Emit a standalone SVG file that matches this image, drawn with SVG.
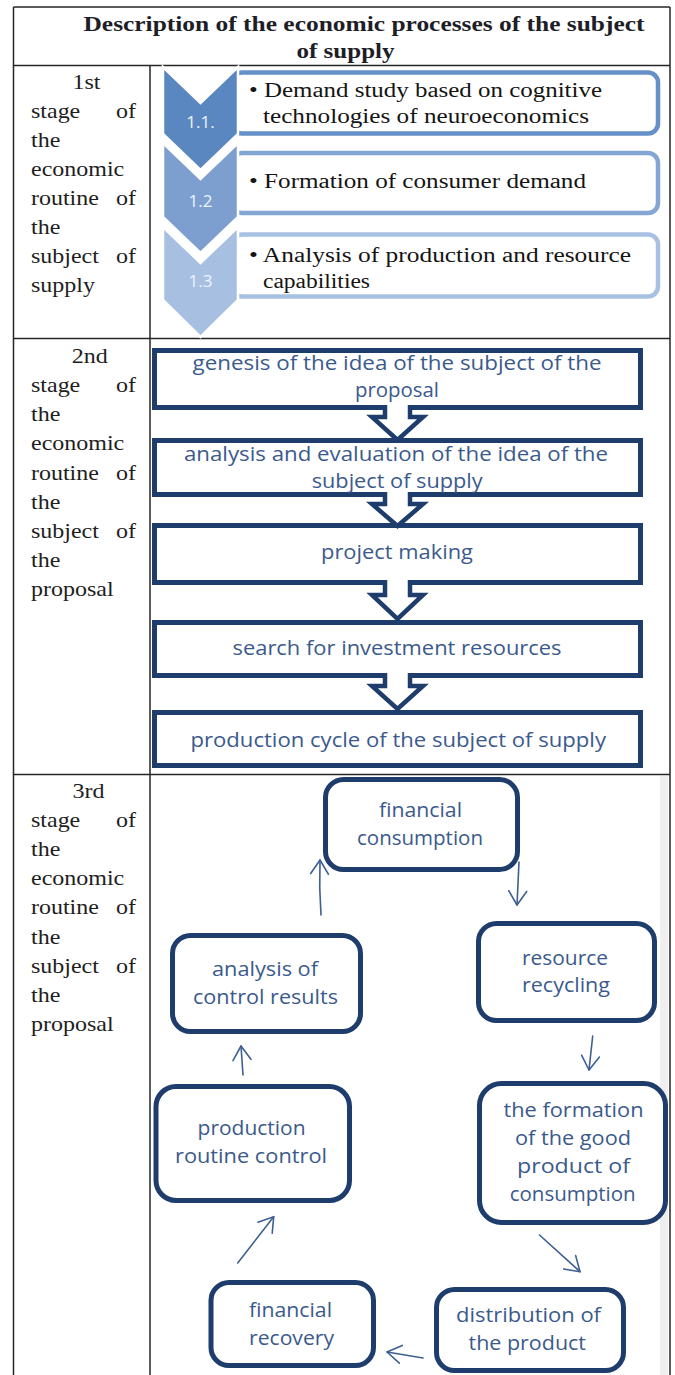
<svg xmlns="http://www.w3.org/2000/svg" width="675" height="1375" viewBox="0 0 675 1375">
<style>
.tbl{stroke:#262626;stroke-width:1.5;fill:none}
.hdr{font-family:"Liberation Serif","Times New Roman",serif;font-weight:bold;font-size:20px;fill:#1e1e28}
.lbl{font-family:"Liberation Serif","Times New Roman",serif;font-size:20px;fill:#1e1e1e}
.s1t{font-family:"Liberation Serif","Times New Roman",serif;font-size:20px;fill:#141414}
.num{font-family:"Open Sans","Liberation Sans",sans-serif;font-size:17px;fill:#eef3fa;text-anchor:middle}
.chev{stroke:#fff;stroke-width:2.5}
.box{fill:#fff;stroke:#1f3d6c;stroke-width:5}
.st{font-family:"Open Sans","Liberation Sans",sans-serif;font-size:20px;fill:#3b5a8c}
.blk{fill:#fff;stroke:#1f3d6c;stroke-width:4.5;stroke-linejoin:miter}
.arr{fill:none;stroke:#3d5f92;stroke-width:1.6;stroke-linecap:round;marker-end:url(#vh)}
</style>
<defs>
<marker id="vh" markerUnits="userSpaceOnUse" viewBox="0 0 16 20" markerWidth="16" markerHeight="20" refX="15" refY="10" orient="auto">
<path d="M1,1 L15,10 L1,19" fill="none" stroke="#3d5f92" stroke-width="1.6" stroke-linecap="round" stroke-linejoin="round"/>
</marker>
</defs>
<rect x="0" y="0" width="675" height="1375" fill="#fff"/>
<rect x="660" y="776" width="8" height="599" fill="#efefef"/>
<g id="table" class="tbl">
<path d="M13.5,7 H670 M13.5,65.5 H670 M13.5,338.5 H670 M13.5,774.5 H670 M13.5,7 V1375 M670,7 V1375 M150,65.5 V1375"/>
</g>
<g id="header">
<text class="hdr" x="83.5" y="31" textLength="561" lengthAdjust="spacingAndGlyphs">Description of the economic processes of the subject</text>
<text class="hdr" x="296.5" y="58" textLength="98" lengthAdjust="spacingAndGlyphs">of supply</text>
</g>
<g id="stage-labels" class="lbl" transform="scale(1.2,1)">
<text x="72.1" y="89" text-anchor="middle">1st</text>
<text y="118"><tspan x="25.83">stage</tspan><tspan x="96.6">of</tspan></text>
<text x="25.83" y="147">the</text>
<text x="25.83" y="176">economic</text>
<text y="205"><tspan x="25.83">routine</tspan><tspan x="96.6">of</tspan></text>
<text x="25.83" y="234">the</text>
<text y="263"><tspan x="25.83">subject</tspan><tspan x="96.6">of</tspan></text>
<text x="25.83" y="292">supply</text>
<text x="74.75" y="363" text-anchor="middle">2nd</text>
<text y="392"><tspan x="25.83">stage</tspan><tspan x="96.6">of</tspan></text>
<text x="25.83" y="421">the</text>
<text x="25.83" y="450">economic</text>
<text y="480"><tspan x="25.83">routine</tspan><tspan x="96.6">of</tspan></text>
<text x="25.83" y="509">the</text>
<text y="538"><tspan x="25.83">subject</tspan><tspan x="96.6">of</tspan></text>
<text x="25.83" y="567">the</text>
<text x="25.83" y="596">proposal</text>
<text x="73.75" y="798" text-anchor="middle">3rd</text>
<text y="827"><tspan x="25.83">stage</tspan><tspan x="96.6">of</tspan></text>
<text x="25.83" y="856">the</text>
<text x="25.83" y="885">economic</text>
<text y="914"><tspan x="25.83">routine</tspan><tspan x="96.6">of</tspan></text>
<text x="25.83" y="944">the</text>
<text y="973"><tspan x="25.83">subject</tspan><tspan x="96.6">of</tspan></text>
<text x="25.83" y="1002">the</text>
<text x="25.83" y="1031">proposal</text>
</g>
<g id="s1-1">
<rect x="232" y="72.5" width="426" height="61" rx="10" fill="#fff" stroke="#6590c8" stroke-width="4.5"/>
<polygon class="chev" fill="#5b87c1" points="163,67 200.5,103 238,67 238,134 200.5,170 163,134"/>
<text class="num" x="200.5" y="128">1.1.</text>
<text class="s1t" x="249" y="97" textLength="353" lengthAdjust="spacingAndGlyphs">• Demand study based on cognitive</text>
<text class="s1t" x="263" y="123" textLength="326" lengthAdjust="spacingAndGlyphs">technologies of neuroeconomics</text>
</g>
<g id="s1-2">
<rect x="232" y="153" width="426" height="60" rx="10" fill="#fff" stroke="#84a6d4" stroke-width="4.5"/>
<polygon class="chev" fill="#7c9fd0" points="163,143 200.5,179 238,143 238,217 200.5,253 163,217"/>
<text class="num" x="200.5" y="207">1.2</text>
<text class="s1t" x="249" y="188" textLength="337" lengthAdjust="spacingAndGlyphs">• Formation of consumer demand</text>
</g>
<g id="s1-3">
<rect x="232" y="234.5" width="426" height="62" rx="10" fill="#fff" stroke="#a8c1e2" stroke-width="4.5"/>
<polygon class="chev" fill="#a7c0e2" points="163,227 200.5,263 238,227 238,300 200.5,337 163,300"/>
<text class="num" x="200.5" y="287">1.3</text>
<text class="s1t" x="249" y="262" textLength="382" lengthAdjust="spacingAndGlyphs">• Analysis of production and resource</text>
<text class="s1t" x="263" y="288" textLength="107" lengthAdjust="spacingAndGlyphs">capabilities</text>
</g>
<g id="s2-1">
<rect class="box" x="154.5" y="350.5" width="486" height="57"/>
<text class="st" x="192.6" y="370" textLength="409" lengthAdjust="spacingAndGlyphs">genesis of the idea of the subject of the</text>
<text class="st" x="355" y="397" textLength="84" lengthAdjust="spacingAndGlyphs">proposal</text>
</g>
<g id="s2-2">
<rect class="box" x="154.5" y="440.5" width="486" height="54"/>
<text class="st" x="184" y="461" textLength="424" lengthAdjust="spacingAndGlyphs">analysis and evaluation of the idea of the</text>
<text class="st" x="311.7" y="488" textLength="171" lengthAdjust="spacingAndGlyphs">subject of supply</text>
</g>
<g id="s2-3">
<rect class="box" x="154.5" y="525.5" width="486" height="57"/>
<text class="st" x="321" y="559" textLength="152" lengthAdjust="spacingAndGlyphs">project making</text>
</g>
<g id="s2-4">
<rect class="box" x="154.5" y="622.5" width="486" height="53"/>
<text class="st" x="232.5" y="655" textLength="329" lengthAdjust="spacingAndGlyphs">search for investment resources</text>
</g>
<g id="s2-5">
<rect class="box" x="154.5" y="712.5" width="486" height="53"/>
<text class="st" x="190.5" y="747" textLength="415.5" lengthAdjust="spacingAndGlyphs">production cycle of the subject of supply</text>
</g>
<g id="s3-financial-consumption">
<rect class="box" x="325.5" y="779.5" width="192" height="90" rx="18"/>
<text class="st" x="379" y="817" textLength="83" lengthAdjust="spacingAndGlyphs">financial</text>
<text class="st" x="357" y="845" textLength="126" lengthAdjust="spacingAndGlyphs">consumption</text>
</g>
<g id="s3-resource-recycling">
<rect class="box" x="478.5" y="923.5" width="176" height="97" rx="18"/>
<text class="st" x="522" y="965" textLength="86" lengthAdjust="spacingAndGlyphs">resource</text>
<text class="st" x="522" y="992" textLength="88" lengthAdjust="spacingAndGlyphs">recycling</text>
</g>
<g id="s3-analysis">
<rect class="box" x="172.5" y="935.5" width="188" height="96" rx="18"/>
<text class="st" x="212" y="976" textLength="106" lengthAdjust="spacingAndGlyphs">analysis of</text>
<text class="st" x="193" y="1004" textLength="145" lengthAdjust="spacingAndGlyphs">control results</text>
</g>
<g id="s3-production-control">
<rect class="box" x="156" y="1086.5" width="193.5" height="114" rx="20"/>
<text class="st" x="197.6" y="1135" textLength="108" lengthAdjust="spacingAndGlyphs">production</text>
<text class="st" x="175" y="1163" textLength="152" lengthAdjust="spacingAndGlyphs">routine control</text>
</g>
<g id="s3-formation">
<rect class="box" x="479.5" y="1083.5" width="186" height="139" rx="22"/>
<text class="st" x="503.5" y="1117" textLength="140" lengthAdjust="spacingAndGlyphs">the formation</text>
<text class="st" x="515" y="1145" textLength="116" lengthAdjust="spacingAndGlyphs">of the good</text>
<text class="st" x="517" y="1173" textLength="113" lengthAdjust="spacingAndGlyphs">product of</text>
<text class="st" x="509.7" y="1201" textLength="126" lengthAdjust="spacingAndGlyphs">consumption</text>
</g>
<g id="s3-distribution">
<rect class="box" x="436.5" y="1289.5" width="187" height="81" rx="18"/>
<text class="st" x="456" y="1322" textLength="145" lengthAdjust="spacingAndGlyphs">distribution of</text>
<text class="st" x="468.5" y="1350" textLength="117.5" lengthAdjust="spacingAndGlyphs">the product</text>
</g>
<g id="s3-financial-recovery">
<rect class="box" x="211" y="1282.5" width="162.5" height="83" rx="18"/>
<text class="st" x="249" y="1317" textLength="83" lengthAdjust="spacingAndGlyphs">financial</text>
<text class="st" x="249" y="1345" textLength="85" lengthAdjust="spacingAndGlyphs">recovery</text>
</g>
<g id="connectors">
<path class="blk" d="M385,405 V417 H372 L397.5,440 L423,417 H410 V405"/>
<path class="blk" d="M385,492 V504 H372 L397.5,526 L423,504 H410 V492"/>
<path class="blk" d="M385,580 V595 H372 L397.5,619 L423,595 H410 V580"/>
<path class="blk" d="M385,673 V686 H372 L397.5,709 L423,686 H410 V673"/>
<path class="arr" d="M321,915 Q319,888 320,860"/>
<path class="arr" d="M519,862 Q518,885 517,905"/>
<path class="arr" d="M592.7,1036 L589,1070"/>
<path class="arr" d="M539.5,1235 L580,1271.7"/>
<path class="arr" d="M423,1358 L387,1352"/>
<path class="arr" d="M237.7,1263 L273.7,1216.7"/>
<path class="arr" d="M243,1075 L241,1046"/>
</g>
</svg>
